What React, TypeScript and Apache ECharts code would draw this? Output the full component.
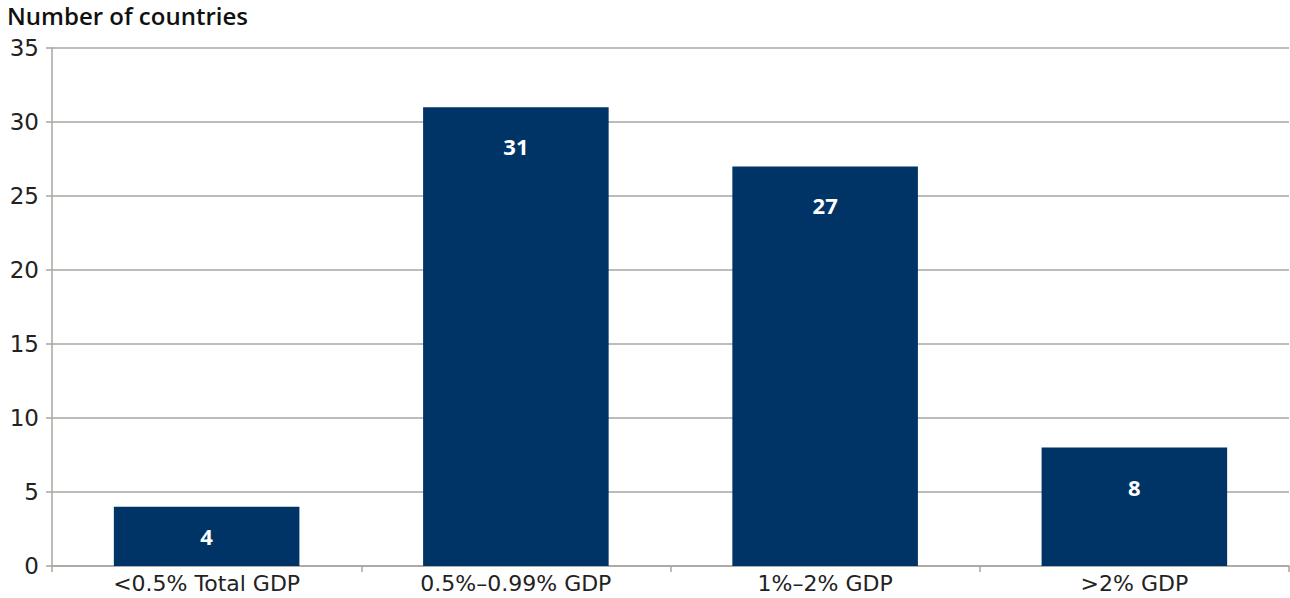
import React, { useEffect, useRef } from "react";
import * as echarts from "echarts";

const categories = ["<0.5% Total GDP", "0.5%–0.99% GDP", "1%–2% GDP", ">2% GDP"];
const values = [4, 31, 27, 8];
const yTitle = "Number of countries";

const FONT = "'DejaVu Sans', 'Open Sans', sans-serif";
const TITLE_FONT = "'Open Sans', 'Noto Sans', sans-serif";

export default function App() {
  const ref = useRef<HTMLDivElement>(null);
  useEffect(() => {
    if (!ref.current) return;
    const chart = echarts.init(ref.current, null, { renderer: "svg" });
    const gridColor = "#aaa59f";
    chart.setOption({
      animation: false,
      backgroundColor: "#ffffff",
      textStyle: { fontFamily: FONT },
      graphic: [
        {
          type: "text",
          left: 7,
          top: 3,
          style: {
            text: yTitle,
            fontSize: 24,
            fontWeight: 600,
            fill: "#111111",
            fontFamily: TITLE_FONT,
          },
        },
      ],
      grid: { left: 52, right: 1, top: 48, bottom: 32 },
      xAxis: {
        type: "category",
        data: categories,
        axisLine: { show: true, lineStyle: { color: gridColor, width: 1.5 } },
        axisTick: { show: true, length: 6, lineStyle: { color: gridColor, width: 1.5 } },
        axisLabel: { color: "#222222", fontSize: 22, margin: 6, fontFamily: FONT },
      },
      yAxis: {
        type: "value",
        min: 0,
        max: 35,
        interval: 5,
        axisLine: { show: true, lineStyle: { color: gridColor, width: 1.5 } },
        axisTick: { show: true, length: 6, lineStyle: { color: gridColor, width: 1.5 } },
        splitLine: { show: true, lineStyle: { color: gridColor, width: 1.5 } },
        axisLabel: { color: "#222222", fontSize: 23, margin: 13, fontFamily: FONT },
      },
      series: [
        {
          type: "bar",
          data: values.map((v) => ({
            value: v,
            label: v < 5 ? { position: "inside" } : { position: "insideTop", distance: 28 },
          })),
          barCategoryGap: "40%",
          itemStyle: { color: "#003366" },
          label: {
            show: true,
            color: "#ffffff",
            fontSize: 22,
            fontWeight: "bold",
            fontFamily: TITLE_FONT,
          },
        },
      ],
    });
    return () => chart.dispose();
  }, []);
  return <div ref={ref} style={{ position: "fixed", left: 0, top: 0, width: 1290, height: 598 }} />;
}
